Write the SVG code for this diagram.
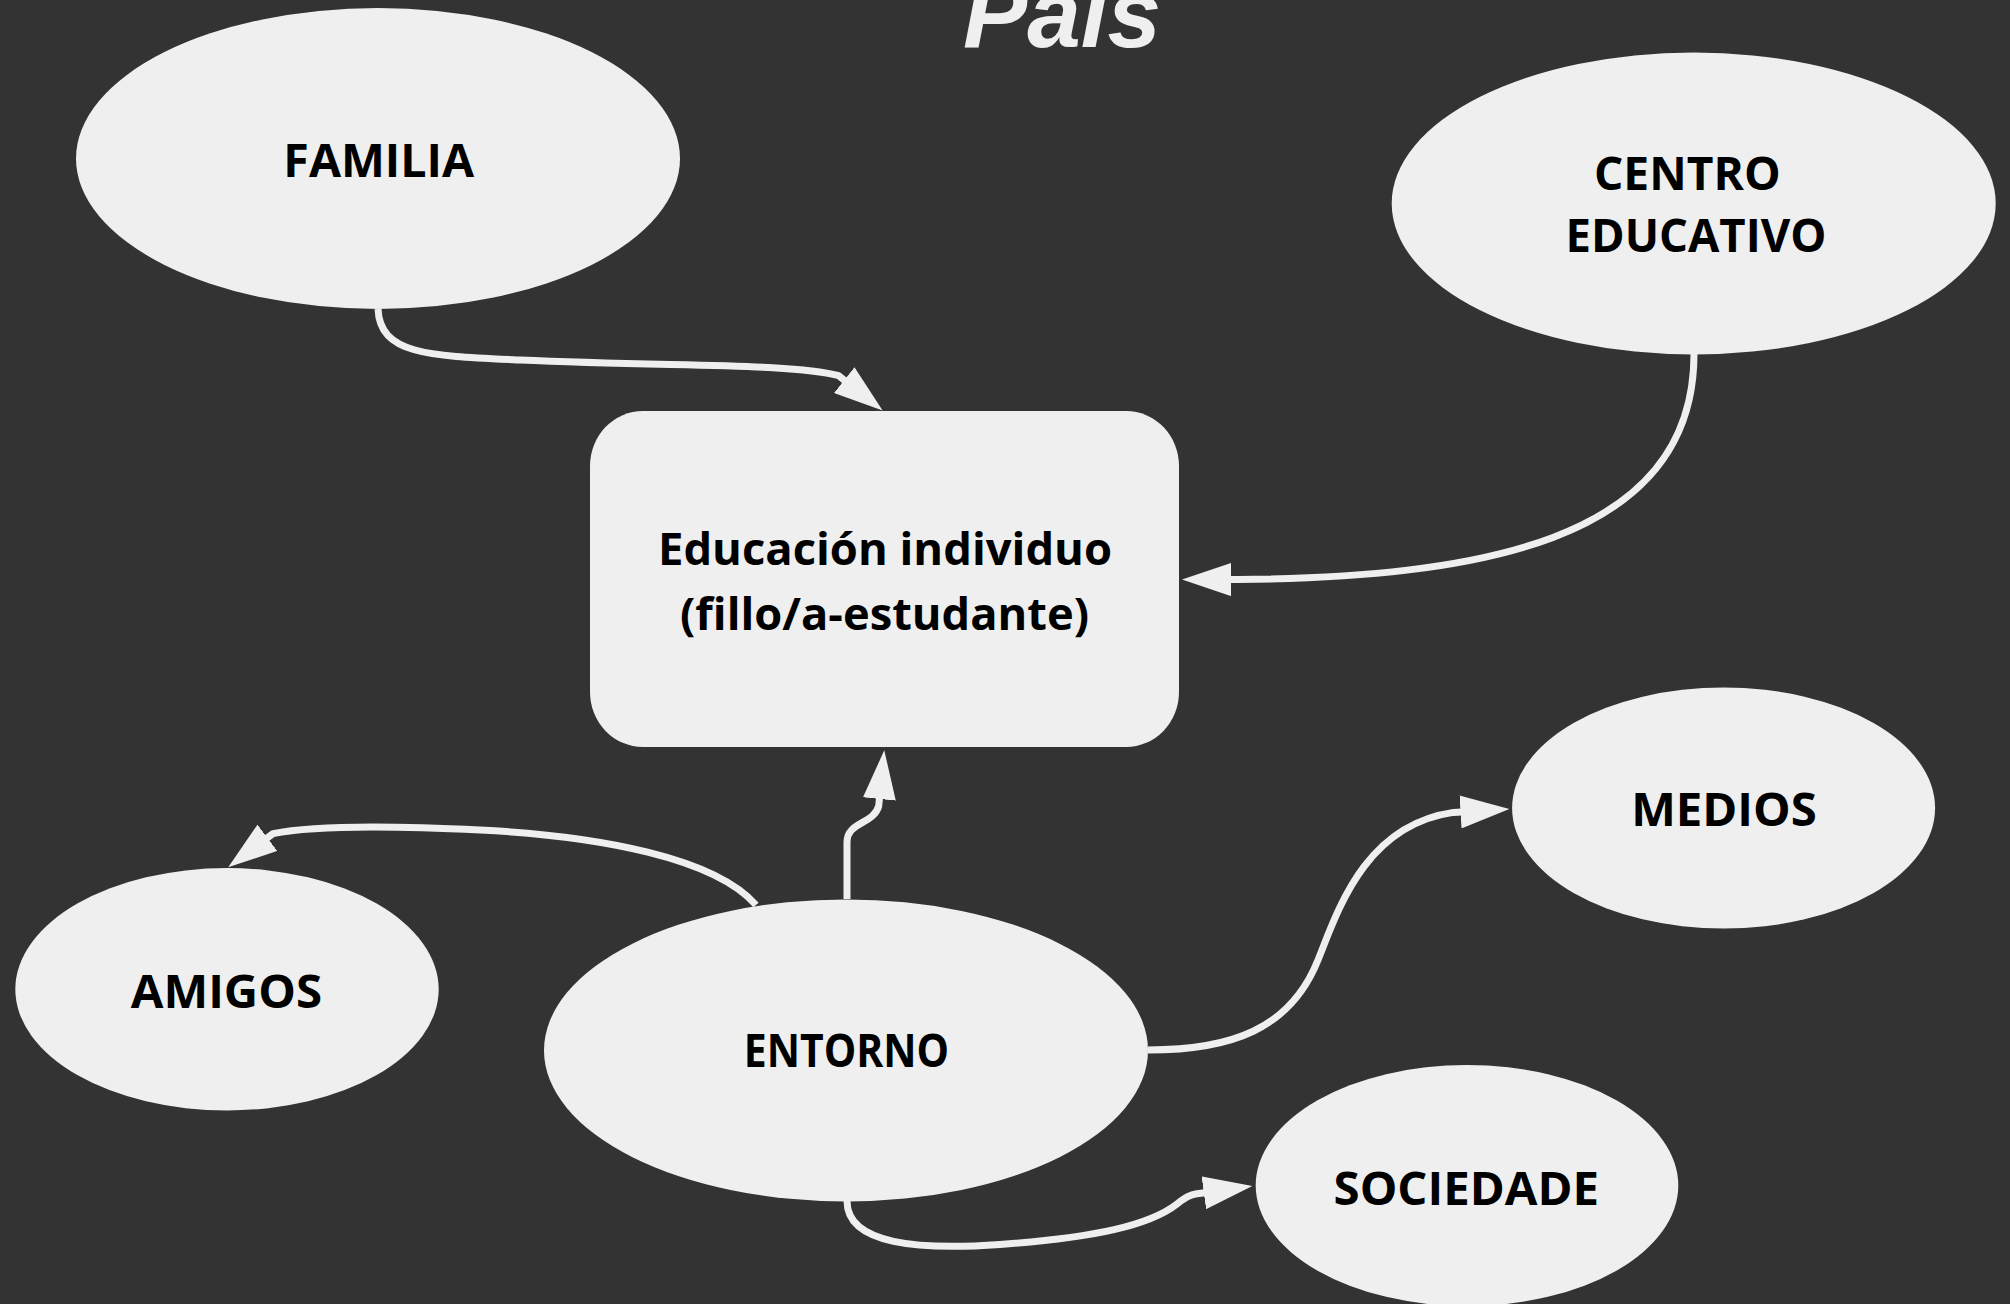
<svg xmlns="http://www.w3.org/2000/svg" width="2010" height="1304" viewBox="0 0 2010 1304">
<style>
.node{fill:#efefef;}
.lbl{font-family:"Open Sans","Noto Sans","Liberation Sans",sans-serif;font-weight:700;font-size:46px;fill:#000;text-anchor:middle;}
.lbl2{font-size:44px;}
.title{font-family:"Liberation Sans","DejaVu Sans",sans-serif;font-weight:700;font-style:italic;font-size:96px;fill:#efefef;}
.conn{fill:none;stroke:#efefef;stroke-width:7;stroke-linejoin:round;marker-end:url(#arr);}
</style>
<defs>
<marker id="arr" viewBox="0 0 49 33" refX="1" refY="16.5" markerWidth="49" markerHeight="33" markerUnits="userSpaceOnUse" orient="auto">
<path d="M0,0 L49,16.5 L0,33 Z" fill="#efefef"/>
</marker>
</defs>
<rect x="0" y="0" width="2010" height="1304" fill="#333333"/>
<text class="title" x="963" y="47" textLength="198" lengthAdjust="spacingAndGlyphs">País</text>
<g id="connectors">
<path class="conn" d="M378,309 C380,355 430,356 520,360 C680,367 790,363 838.7,375.7 L845,380.7"/>
<path class="conn" d="M1694,354 C1694,545 1470,577 1238,579.6 L1230,579.6"/>
<path class="conn" d="M847,899 L847,842 C847,822 874,824 878.7,806 L879.5,798"/>
<path class="conn" d="M756,905 C715,858 600,836 480,830 C380,825 310,826 273,833.6 L266.6,838.4"/>
<path class="conn" d="M1148,1050 C1230,1050 1290,1030 1318,960 C1338,910 1365,825 1453.5,812.4 L1461.5,811.9"/>
<path class="conn" d="M847,1201 C847,1245 920,1250 1000,1244.4 C1095,1238 1150,1225 1177,1204 C1186,1197 1190,1195 1196.9,1193.8 L1204.8,1192.7"/>
</g>
<g id="familia">
<ellipse class="node" cx="378" cy="158.5" rx="302" ry="150.5"/>
<text class="lbl" x="378.7" y="176.7" textLength="190.7" lengthAdjust="spacingAndGlyphs">FAMILIA</text>
</g>
<g id="centro-educativo">
<ellipse class="node" cx="1693.7" cy="203.5" rx="302" ry="151"/>
<text class="lbl" x="1687.3" y="190" textLength="186.7" lengthAdjust="spacingAndGlyphs">CENTRO</text>
<text class="lbl" x="1696" y="251.7" textLength="261" lengthAdjust="spacingAndGlyphs">EDUCATIVO</text>
</g>
<g id="educacion">
<rect class="node" x="590" y="411" width="589" height="336" rx="53" ry="55"/>
<text class="lbl lbl2" x="885" y="565" textLength="454" lengthAdjust="spacingAndGlyphs">Educación individuo</text>
<text class="lbl lbl2" x="884.5" y="630" textLength="409" lengthAdjust="spacingAndGlyphs">(fillo/a-estudante)</text>
</g>
<g id="medios">
<ellipse class="node" cx="1723.6" cy="808" rx="211.5" ry="120.5"/>
<text class="lbl" x="1724" y="826" textLength="185.7" lengthAdjust="spacingAndGlyphs">MEDIOS</text>
</g>
<g id="amigos">
<ellipse class="node" cx="227" cy="989.3" rx="211.7" ry="121.2"/>
<text class="lbl" x="226.4" y="1007.5" textLength="191.3" lengthAdjust="spacingAndGlyphs">AMIGOS</text>
</g>
<g id="entorno">
<ellipse class="node" cx="846" cy="1050.4" rx="302" ry="151"/>
<text class="lbl" x="846.4" y="1067" textLength="205.3" lengthAdjust="spacingAndGlyphs">ENTORNO</text>
</g>
<g id="sociedade">
<ellipse class="node" cx="1467" cy="1185.5" rx="211.3" ry="120.5"/>
<text class="lbl" x="1466.3" y="1204.7" textLength="265.4" lengthAdjust="spacingAndGlyphs">SOCIEDADE</text>
</g>
</svg>
